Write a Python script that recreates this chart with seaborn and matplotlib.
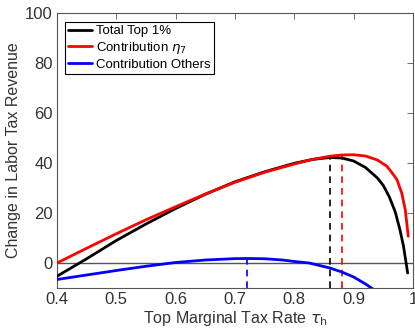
import numpy as np
import pandas as pd
import matplotlib
matplotlib.use("Agg")
import matplotlib.pyplot as plt
import seaborn as sns

# ---- data ----
x_total = [0.40, 0.45, 0.50, 0.55, 0.60, 0.65, 0.70, 0.75, 0.80, 0.83, 0.86, 0.88,
           0.90, 0.92, 0.94, 0.95, 0.96, 0.97, 0.978, 0.984, 0.991]
y_total = [-5.3, 1.7, 9.0, 15.6, 21.8, 27.5, 32.5, 36.5, 39.9, 41.4, 42.2, 42.0,
           40.8, 38.2, 34.0, 31.0, 26.5, 20.5, 13.3, 6.7, -4.0]

x_eta = [0.40, 0.45, 0.50, 0.55, 0.60, 0.65, 0.70, 0.75, 0.80, 0.83, 0.86, 0.88,
         0.90, 0.92, 0.94, 0.956, 0.965, 0.973, 0.981, 0.987, 0.992]
y_eta = [0.0, 5.9, 11.7, 17.3, 22.5, 27.6, 32.3, 36.3, 39.6, 41.4, 42.7, 43.2,
         43.3, 42.8, 41.2, 38.7, 36.0, 33.3, 28.0, 21.3, 10.7]

x_oth = [0.40, 0.45, 0.50, 0.55, 0.60, 0.65, 0.70, 0.72, 0.75, 0.78, 0.80, 0.825,
         0.86, 0.88, 0.90, 0.92, 0.935]
y_oth = [-6.6, -4.8, -3.0, -1.3, 0.2, 1.2, 1.75, 1.8, 1.7, 1.2, 0.6, 0.0,
         -2.0, -3.6, -5.6, -8.4, -10.8]

series_names = ["Total Top 1%", r"Contribution $\eta_7$", "Contribution Others"]
series_colors = ["black", "red", "blue"]

peak_x = [0.86, 0.88, 0.72]
peak_y = [42.2, 43.2, 1.8]

x_ticks = [0.4, 0.5, 0.6, 0.7, 0.8, 0.9, 1.0]
x_tick_labels = ["0.4", "0.5", "0.6", "0.7", "0.8", "0.9", "1"]
y_ticks = [0, 20, 40, 60, 80, 100]

# ---- build frame ----
frames = []
for name, xs, ys in zip(series_names, [x_total, x_eta, x_oth], [y_total, y_eta, y_oth]):
    frames.append(pd.DataFrame({"x": xs, "y": ys, "series": name}))
df = pd.concat(frames, ignore_index=True)

sns.set_style("white")
plt.rcParams["font.family"] = ["Liberation Sans", "DejaVu Sans"]
plt.rcParams["mathtext.fontset"] = "dejavusans"

fig = plt.figure(figsize=(4.15, 3.29), dpi=100)
ax = fig.add_axes([57 / 415, 1 - 288 / 329, 356 / 415, 275 / 329])

ax.axhline(0, color="#555555", lw=1.0, zorder=1)

sns.lineplot(data=df, x="x", y="y", hue="series", hue_order=series_names,
             palette=dict(zip(series_names, series_colors)), sort=False,
             estimator=None, lw=2.0, ax=ax, zorder=3)

for px, py, c in zip(peak_x, peak_y, series_colors):
    ax.plot([px, px], [-10, py], ls=(0, (4, 3)), color=c, lw=1.2, zorder=2)

ax.set_xlim(0.4, 1.0)
ax.set_ylim(-10, 100)
ax.set_xticks(x_ticks)
ax.set_xticklabels(x_tick_labels)
ax.set_yticks(y_ticks)

grey = "#333333"
ax.tick_params(direction="in", length=4, width=0.6, top=True, right=True,
               colors="#555555", labelcolor=grey, labelsize=12, pad=3)
for s in ax.spines.values():
    s.set_color("#555555")
    s.set_linewidth(0.8)

ax.set_xlabel(r"Top Marginal Tax Rate $\tau_{\rm h}$", fontsize=11.5, color=grey, labelpad=1)
ax.set_ylabel("Change in Labor Tax Revenue", fontsize=11.5, color=grey, labelpad=3)

leg = ax.legend(loc="upper left", bbox_to_anchor=(0.022, 0.968), fontsize=9.5,
                frameon=True, fancybox=False, edgecolor="black", framealpha=1,
                handlelength=1.8, handletextpad=0.3, borderpad=0.25,
                labelspacing=0.2, borderaxespad=0)
leg.get_frame().set_linewidth(0.8)
for t in leg.get_texts():
    t.set_color("black")

fig.savefig("out.png", dpi=100)
